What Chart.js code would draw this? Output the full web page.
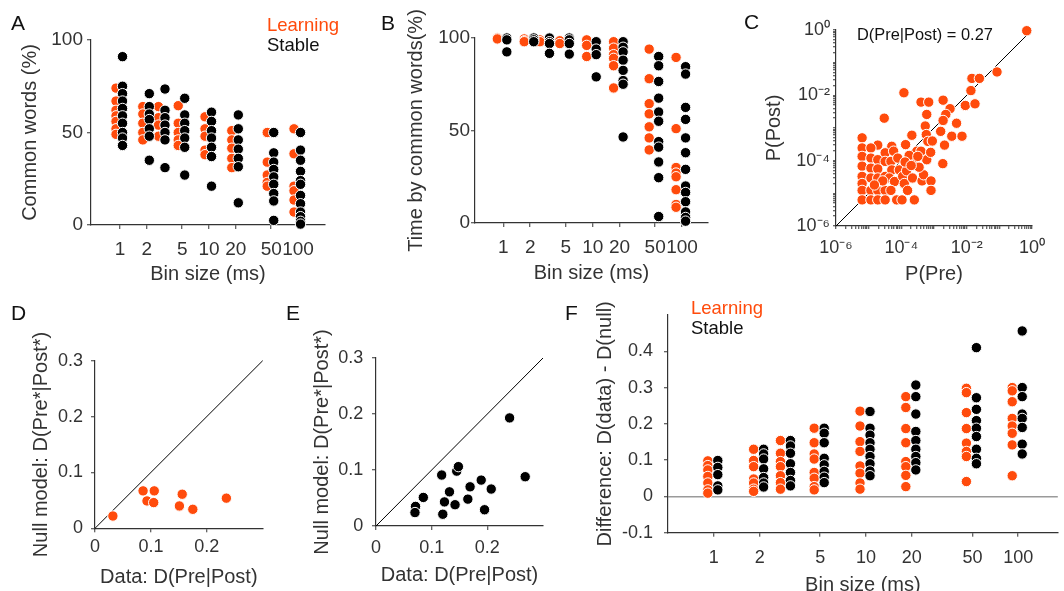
<!DOCTYPE html>
<html>
<head>
<meta charset="utf-8">
<script src="https://cdn.jsdelivr.net/npm/chart.js@4.4.1/dist/chart.umd.min.js"></script>
<style>
  html, body { margin: 0; padding: 0; background: #fff; width: 1064px; height: 591px; overflow: hidden; }
  body { position: relative; font-family: "Liberation Sans", Arial, sans-serif; color: #222; }
  canvas { position: absolute; }
  .lbl { position: absolute; line-height: 1; white-space: nowrap; }
  .letter { font-size: 21px; color: #111; }
</style>
</head>
<body>
<canvas id="chartA" width="350" height="290" style="left:0px;top:0px"></canvas>
<canvas id="chartB" width="360" height="290" style="left:360px;top:0px"></canvas>
<canvas id="chartC" width="344" height="290" style="left:720px;top:0px"></canvas>
<canvas id="chartD" width="280" height="301" style="left:0px;top:290px"></canvas>
<canvas id="chartE" width="290" height="301" style="left:280px;top:290px"></canvas>
<canvas id="chartF" width="494" height="310" style="left:570px;top:290px"></canvas>

<div class="lbl letter" style="left:11px;top:12px">A</div>
<div class="lbl letter" style="left:381px;top:12px">B</div>
<div class="lbl letter" style="left:744px;top:11px">C</div>
<div class="lbl letter" style="left:11px;top:302px">D</div>
<div class="lbl letter" style="left:286px;top:302px">E</div>
<div class="lbl letter" style="left:565px;top:302px">F</div>

<div class="lbl" style="left:267px;top:16px;font-size:18.5px;color:#ff4b0c">Learning</div>
<div class="lbl" style="left:267px;top:36px;font-size:18.5px;color:#111">Stable</div>
<div class="lbl" style="left:857px;top:26px;font-size:16.4px;color:#111">D(Pre|Post) = 0.27</div>
<div class="lbl" style="left:691px;top:299px;font-size:18.5px;color:#ff4b0c">Learning</div>
<div class="lbl" style="left:691px;top:319px;font-size:18.5px;color:#111">Stable</div>

<script>
// ---- data ----
const binSizes = [1, 2, 3, 5, 10, 20, 50, 100];
const binTicks = [1, 2, 5, 10, 20, 50, 100];

// A: common words (%), one list per bin size
const commonLearning = [
  [74, 67, 62, 59, 56, 52, 49],
  [64, 60, 55, 50, 46],
  [64, 58, 54, 48],
  [64.5, 55, 50, 46, 43],
  [58.5, 52, 48, 40.5, 38],
  [51, 46, 41.5, 36, 31],
  [50, 34, 27, 23, 21],
  [52, 38.5, 21, 18.5, 13.5, 7]
];
const commonStable = [
  [91, 75, 71, 67, 63, 59, 55, 50, 47, 43],
  [71, 64, 60, 57, 52, 48, 35],
  [73.5, 62, 58, 54, 50, 46, 31],
  [68.5, 59.5, 55, 51, 47, 42, 27],
  [61, 56, 51, 47, 42, 37, 21],
  [59.5, 52, 46, 41, 36, 31.5, 12],
  [50, 39, 34, 30, 26, 22, 17, 13, 2.5],
  [50, 40.5, 35, 29, 24, 22, 16, 11.5, 7, 4.5, 2, 0.5]
];

// B: time covered by common words (%)
const timeLearning = [
  [100, 99.5],
  [99.5, 98.5, 98],
  [99, 98],
  [98.5, 97],
  [99, 96, 90],
  [98, 94.5, 91, 89, 85, 73],
  [94, 78, 64.5, 59, 52, 46, 39.5],
  [89.5, 51, 30, 27, 25, 18, 10, 8.5]
];
const timeStable = [
  [100, 99, 92.5],
  [100, 99, 98],
  [100, 98, 97, 91.7],
  [100, 99, 97, 91.3],
  [98, 94, 91, 79],
  [98, 95, 92.5, 88, 82.5, 77, 75, 46.5],
  [90, 85, 76.5, 67.5, 60, 55, 44, 41, 33, 24.5, 3.5],
  [84.5, 80.5, 62.5, 56, 46, 38, 29, 20, 16.5, 11.5, 6, 3, 1]
];

// C: word probabilities before / after
const cPre = [
  0.69, 0.085, 0.0145, 0.0245, 0.0135, 0.0091, 0.018, 0.0019, 0.0031, 0.0023,
  1.2e-4, 4.0e-4, 6.9e-4, 3.0e-5, 6.0e-4, 0.0019, 0.0049, 5.4e-4, 0.0016, 0.0035,
  0.0072, 2.1e-4, 5.8e-4, 0.0021, 6.5e-4, 1.35e-4, 3.0e-4, 6.0e-4, 0.00186, 2.5e-4,
  4.0e-4, 5.1e-5, 1.9e-5,
  6.3e-6, 6.3e-6, 6.3e-6, 6.3e-6, 6.3e-6, 6.3e-6, 6.3e-6, 6.3e-6,
  1.17e-5, 1.17e-5, 1.17e-5, 1.17e-5, 1.17e-5, 1.17e-5,
  1.9e-5, 1.9e-5, 1.9e-5, 1.9e-5, 1.9e-5,
  3.2e-5, 3.2e-5, 3.2e-5, 3.2e-5, 3.2e-5,
  5.8e-5, 4.8e-5, 5.1e-5, 4.3e-5, 6.2e-5, 4.8e-5, 7.2e-5, 1.05e-4,
  7.8e-5, 8.7e-5, 1.1e-4, 1.23e-4, 1.55e-4, 2.5e-4,
  1.45e-4, 2.2e-4, 4.3e-4, 4.8e-4, 8.1e-4, 8.1e-4,
  1.74e-4, 3.2e-4, 1.3e-4, 2.7e-5, 1.5e-5,
  8.9e-4, 7.9e-4, 3.5e-4, 2.0e-4
];
const cPost = [
  0.95, 0.052, 0.033, 0.033, 0.014, 0.0049, 0.0055, 0.0071, 0.0039, 0.0026,
  0.012, 0.0062, 0.0062, 0.002, 0.0026, 0.0017, 0.0014, 0.00115, 7.9e-4, 5.6e-4,
  5.6e-4, 6.0e-4, 6.3e-4, 3.0e-4, 3.9e-4, 3.1e-4, 1.95e-4, 1.07e-4, 8.1e-5, 9.5e-5,
  1.95e-4, 2.75e-4, 3.0e-4,
  5.0e-4, 2.45e-4, 1.35e-4, 6.8e-5, 3.3e-5, 2.0e-5, 1.23e-5, 6.3e-6,
  2.45e-4, 1.2e-4, 5.9e-5, 2.95e-5, 1.23e-5, 6.3e-6,
  1.07e-4, 5.6e-5, 2.95e-5, 1.23e-5, 6.3e-6,
  1.74e-4, 9.5e-5, 3.3e-5, 1.23e-5, 6.3e-6,
  1.95e-4, 9.5e-5, 5.2e-5, 2.95e-5, 2.3e-5, 1.23e-5, 6.3e-6, 6.3e-6,
  1.2e-4, 5.2e-5, 3.3e-5, 2.0e-5, 1.23e-5, 6.3e-6,
  4.9e-5, 2.95e-5, 2.4e-5, 3.7e-5, 2.4e-5, 1.23e-5,
  1.45e-4, 1.35e-4, 9.1e-5, 2.4e-5, 1.8e-5,
  4.0e-4, 1.8e-4, 6.3e-5, 7.1e-5
];

// D / E: divergence of data vs null model
const dData = [0.032, 0.086, 0.106, 0.093, 0.105, 0.156, 0.151, 0.175, 0.235];
const dNull = [0.022, 0.067, 0.067, 0.049, 0.046, 0.061, 0.040, 0.034, 0.054];
const eData = [0.071, 0.070, 0.085, 0.118, 0.123, 0.120, 0.132, 0.145, 0.148, 0.142, 0.169, 0.165, 0.189, 0.195, 0.207, 0.240, 0.268];
const eNull = [0.035, 0.024, 0.051, 0.091, 0.043, 0.021, 0.061, 0.098, 0.106, 0.038, 0.070, 0.048, 0.082, 0.029, 0.066, 0.193, 0.088];

// F: D(data) - D(null) per bin size
const diffLearning = [
  [0.098, 0.085, 0.073, 0.055, 0.037, 0.018, 0.009],
  [0.13, 0.099, 0.082, 0.048, 0.037, 0.02, 0.014],
  [0.154, 0.119, 0.096, 0.082, 0.057, 0.038, 0.02],
  [0.188, 0.148, 0.117, 0.103, 0.066, 0.05, 0.027, 0.018],
  [0.235, 0.194, 0.151, 0.124, 0.084, 0.064, 0.037, 0.02],
  [0.275, 0.245, 0.187, 0.148, 0.096, 0.082, 0.058, 0.027],
  [0.298, 0.286, 0.231, 0.187, 0.147, 0.124, 0.11, 0.041],
  [0.3, 0.291, 0.261, 0.215, 0.194, 0.174, 0.142, 0.057]
];
const diffStable = [
  [0.099, 0.08, 0.06, 0.029, 0.018],
  [0.13, 0.117, 0.103, 0.076, 0.052, 0.037, 0.026],
  [0.154, 0.139, 0.119, 0.09, 0.066, 0.044, 0.029],
  [0.188, 0.174, 0.148, 0.105, 0.087, 0.069, 0.053, 0.038],
  [0.234, 0.188, 0.169, 0.148, 0.13, 0.11, 0.09, 0.07, 0.057],
  [0.307, 0.275, 0.227, 0.179, 0.154, 0.13, 0.11, 0.093, 0.073],
  [0.41, 0.272, 0.24, 0.209, 0.188, 0.165, 0.13, 0.105, 0.09],
  [0.456, 0.3, 0.275, 0.227, 0.215, 0.19, 0.144, 0.117]
];

const unityD = [0, 0.3];
const unityC = [1e-6, 1];

// ---- styling ----
const ORANGE = '#ff4b0c';
const BLACK = '#000000';
const AXIS = '#333333';
const TEXT = '#333333';
const FONT = '"Liberation Sans", Arial, sans-serif';

// shifts a dataset sideways by a few pixels so the two groups sit next to each tick
const dodgePlugin = {
  id: 'dodge',
  afterDatasetsUpdate(chart) {
    chart.data.datasets.forEach((ds, i) => {
      if (!ds.dodge) return;
      chart.getDatasetMeta(i).data.forEach(pt => { pt.x += ds.dodge; });
    });
  }
};

function columnPoints(columns) {
  const pts = [];
  columns.forEach((vals, i) => vals.forEach(v => pts.push({ x: binSizes[i], y: v })));
  return pts;
}

function pairPoints(xs, ys) {
  return xs.map((x, i) => ({ x: x, y: ys[i] }));
}

function dots(points, color, dodge, order) {
  return {
    data: points, dodge: dodge || 0, order: order,
    backgroundColor: color, borderColor: '#ffffff', borderWidth: 1,
    pointRadius: 5.2, pointHoverRadius: 5.2, clip: false
  };
}

function unityLine(lims) {
  return {
    type: 'line', data: [{ x: lims[0], y: lims[0] }, { x: lims[1], y: lims[1] }],
    borderColor: '#000', borderWidth: 1, pointRadius: 0, order: 5, clip: false
  };
}

function axis(o) {
  const sc = {
    type: o.type || 'linear', min: o.min, max: o.max,
    border: { display: true, color: AXIS, width: 1.2 },
    grid: {
      display: true, drawOnChartArea: !!o.gridColor, drawTicks: true,
      tickLength: o.tickLength || 4, color: o.gridColor || AXIS, tickColor: AXIS, tickWidth: 1,
      lineWidth: 1.5
    },
    ticks: {
      color: TEXT, font: { family: FONT, size: o.tickSize || 18 }, padding: o.tickPad,
      autoSkip: false, maxRotation: 0, minRotation: 0,
      callback: o.fmt || (v => String(v))
    },
    title: {
      display: true, text: o.title, color: TEXT, font: { family: FONT, size: 20 },
      padding: o.titlePad
    }
  };
  if (o.ticks) sc.afterBuildTicks = s => { s.ticks = o.ticks.map(v => ({ value: v })); };
  return sc;
}

function panel(id, g, datasets, xs, ys) {
  xs.afterFit = s => { s.height = g.xH; };
  ys.afterFit = s => { s.width = g.yW; };
  return new Chart(document.getElementById(id), {
    type: 'scatter',
    data: { datasets: datasets },
    options: {
      responsive: false, animation: false, events: [],
      layout: { padding: { top: g.pt, right: g.pr, left: 0, bottom: 0 } },
      plugins: { legend: { display: false }, tooltip: { enabled: false } },
      scales: { x: xs, y: ys }
    },
    plugins: [dodgePlugin]
  });
}

const SUP = { '-': '\u207B', '0': '\u2070', '1': '\u00B9', '2': '\u00B2', '3': '\u00B3',
  '4': '\u2074', '5': '\u2075', '6': '\u2076', '7': '\u2077', '8': '\u2078', '9': '\u2079' };
function powLabel(v) {
  const e = Math.round(Math.log10(v));
  if (Math.abs(v / Math.pow(10, e) - 1) > 1e-6 || e % 2 !== 0) return '';
  return '10' + String(e).split('').map(c => SUP[c]).join('');
}
const logTicks = [];
for (let e = -6; e <= 0; e++) {
  logTicks.push(Math.pow(10, e));
  if (e < 0) for (let m = 2; m <= 9; m++) logTicks.push(m * Math.pow(10, e));
}

// ---- A ----
panel('chartA', { yW: 91, xH: 65, pt: 40, pr: 25 },
  [dots(columnPoints(commonLearning), ORANGE, -4, 2), dots(columnPoints(commonStable), BLACK, 2.5, 1)],
  axis({ type: 'logarithmic', min: 0.472, max: 201, ticks: binTicks, tickPad: 9, tickSize: 19,
         title: 'Bin size (ms)', titlePad: { bottom: 4 } }),
  axis({ min: 0, max: 100, ticks: [0, 50, 100], tickPad: 4, tickSize: 19,
         title: 'Common words (%)', titlePad: { top: 18 } }));

// ---- B ----
panel('chartB', { yW: 115, xH: 67, pt: 38, pr: 12 },
  [dots(columnPoints(timeLearning), ORANGE, -6, 2), dots(columnPoints(timeStable), BLACK, 3.5, 1)],
  axis({ type: 'logarithmic', min: 0.482, max: 195, ticks: binTicks, tickPad: 9, tickSize: 19,
         title: 'Bin size (ms)', titlePad: { bottom: 4.5 } }),
  axis({ min: 0, max: 100, ticks: [0, 50, 100], tickPad: 1, tickSize: 19,
         title: 'Time by common words(%)', titlePad: { top: 44 } }));

// ---- C ----
panel('chartC', { yW: 116, xH: 64, pt: 30, pr: 32 },
  [unityLine(unityC), dots(pairPoints(cPre, cPost), ORANGE, 0, 2)],
  axis({ type: 'logarithmic', min: 1e-6, max: 1, ticks: logTicks, tickLength: 3, tickPad: 8.5,
         fmt: powLabel, title: 'P(Pre)', titlePad: { bottom: 4 } }),
  axis({ type: 'logarithmic', min: 1e-6, max: 1, ticks: logTicks, tickLength: 3, tickPad: 3,
         fmt: powLabel, title: 'P(Post)', titlePad: { top: 42 } }));

// ---- D ----
panel('chartD', { yW: 95, xH: 62.7, pt: 70.7, pr: 17.3 },
  [unityLine(unityD), dots(pairPoints(dData, dNull), ORANGE, 0, 2)],
  axis({ min: 0, max: 0.3, ticks: [0, 0.1, 0.2], tickPad: 4,
         title: 'Data: D(Pre|Post)', titlePad: { bottom: 2 } }),
  axis({ min: 0, max: 0.3, ticks: [0, 0.1, 0.2, 0.3], tickPad: 8,
         title: 'Null model: D(Pre*|Post*)', titlePad: { top: 29 } }));

// ---- E ----
panel('chartE', { yW: 96, xH: 65, pt: 68, pr: 27 },
  [unityLine(unityD), dots(pairPoints(eData, eNull), BLACK, 0, 2)],
  axis({ min: 0, max: 0.3, ticks: [0, 0.1, 0.2], tickPad: 7.5,
         title: 'Data: D(Pre|Post)', titlePad: { bottom: 4 } }),
  axis({ min: 0, max: 0.3, ticks: [0, 0.1, 0.2, 0.3], tickPad: 8.7,
         title: 'Null model: D(Pre*|Post*)', titlePad: { top: 30.5 } }));

// ---- F ----
const fy = axis({ min: -0.1, max: 0.5, ticks: [-0.1, 0, 0.1, 0.2, 0.3, 0.4], tickPad: 11,
                  title: 'Difference: D(data) - D(null)', titlePad: { top: 23 },
                  gridColor: c => (c.tick && c.tick.value === 0 ? '#9a9a9a' : 'rgba(0,0,0,0)') });
panel('chartF', { yW: 98, xH: 67.3, pt: 25, pr: 0 },
  [dots(columnPoints(diffLearning), ORANGE, -6, 2), dots(columnPoints(diffStable), BLACK, 4, 1)],
  axis({ type: 'logarithmic', min: 0.5, max: 182, ticks: binTicks, tickPad: 11,
         title: 'Bin size (ms)', titlePad: { bottom: 3 } }),
  fy);
</script>
</body>
</html>
